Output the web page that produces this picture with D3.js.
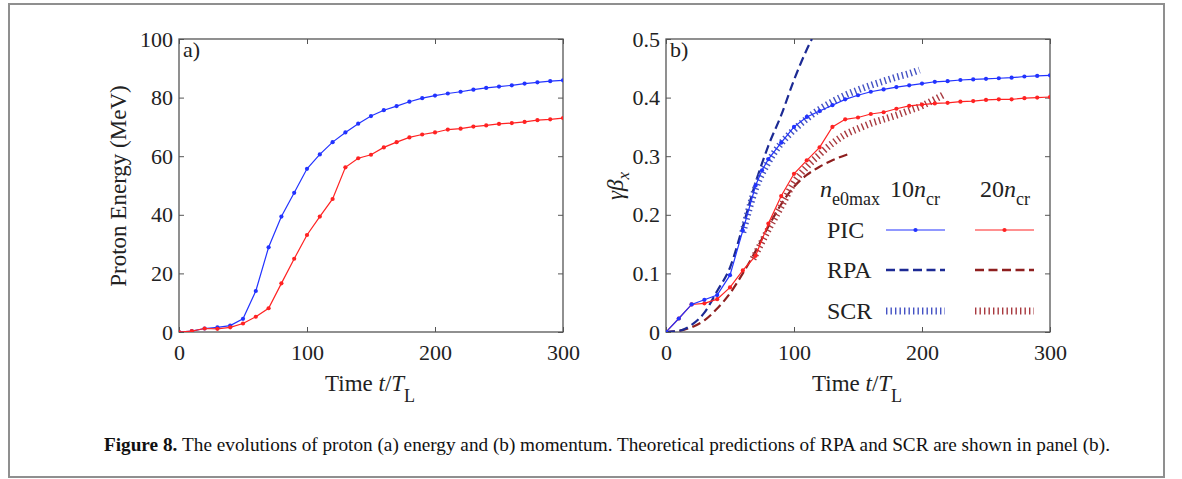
<!DOCTYPE html>
<html><head><meta charset="utf-8">
<script src="https://cdn.jsdelivr.net/npm/d3@7"></script>
<style>body{margin:0;background:#fff}svg{display:block}
svg text{font-family:"Liberation Serif","Times New Roman",serif;fill:#222}</style>
</head><body>
<svg id="c" width="1182" height="479"></svg>
<script>
// ---- data ----
const timeA = [0,10,20,30,40,50,60,70,80,90,100,110,120,130,140,150,160,170,180,190,200,210,220,230,240,250,260,270,280,290,300];
const energy10 = [0,0.3,1.2,1.6,2.2,4.5,14,28.9,39.4,47.5,55.7,60.6,64.8,68.1,71.1,73.7,75.7,77.1,78.6,79.8,80.7,81.4,82,82.7,83.3,83.75,84.2,84.8,85.2,85.6,85.9];
const energy20 = [0,0.3,1.2,1.1,1.6,2.9,5.2,8.1,16.6,25,33.1,39.4,45.4,56.2,59.3,60.5,63,64.8,66.4,67.4,68.1,69.1,69.4,70.1,70.5,71,71.3,71.7,72.3,72.6,73];

const picT10 = [0,10,20,30,40,50,60,70,75,80,90,100,110,120,130,140,150,160,170,180,190,200,210,220,230,240,250,260,270,280,290,300];
const pic10 = [0,0.023,0.047,0.055,0.063,0.097,0.173,0.25,0.276,0.295,0.323,0.35,0.367,0.377,0.387,0.397,0.404,0.41,0.414,0.418,0.421,0.424,0.427,0.428,0.43,0.431,0.432,0.433,0.434,0.436,0.437,0.438];
const picT20 = timeA;
const pic20 = [0,0.023,0.047,0.049,0.056,0.076,0.105,0.13,0.185,0.232,0.27,0.293,0.315,0.35,0.363,0.366,0.372,0.375,0.381,0.386,0.388,0.39,0.391,0.393,0.394,0.396,0.397,0.397,0.399,0.4,0.401];

const rpaT10 = [0,10,20,30,40,50,60,70,80,90,100,110,114];
const rpa10 = [0,0.002,0.012,0.033,0.07,0.11,0.18,0.255,0.318,0.37,0.43,0.482,0.5];
const rpaT20 = [0,10,20,30,40,50,60,70,80,90,100,110,120,130,143];
const rpa20 = [0,0.002,0.008,0.02,0.04,0.066,0.1,0.138,0.18,0.218,0.248,0.268,0.282,0.293,0.304];

const scrT10 = [60,70,80,90,100,110,120,130,140,150,160,170,180,190,198];
const scr10 = [0.17,0.245,0.29,0.322,0.345,0.364,0.38,0.393,0.404,0.413,0.421,0.428,0.435,0.441,0.447];
const scrT20 = [68,70,80,90,100,110,120,130,140,150,160,170,180,190,200,210,217];
const scr20 = [0.125,0.133,0.175,0.214,0.255,0.282,0.303,0.322,0.337,0.347,0.356,0.363,0.37,0.378,0.386,0.397,0.405];

const xTicks = [0,100,200,300];
const yTicksA = [0,20,40,60,80,100];
const yTicksB = [0,0.1,0.2,0.3,0.4,0.5];

// ---- drawing ----
const svg = d3.select("#c");
const AX = "#555";
const C = {pic10:"#2233ff", pic20:"#ff2222", rpa10:"#1c2a94", rpa20:"#8e1f1f", scr10:"#4452c4", scr20:"#a8393f"};

svg.append("rect").attr("x",9).attr("y",4).attr("width",1155).attr("height",473)
  .attr("fill","none").attr("stroke","#8f8f8f").attr("stroke-width",2);

function txt(x,y,size){
  return svg.append("text").attr("x",x).attr("y",y).style("font-size",size+"px");
}

function panel(id, x0, x1, yDom, yTicks, fmt){
  const x = d3.scaleLinear().domain([0,300]).range([x0,x1]);
  const y = d3.scaleLinear().domain(yDom).range([332,39]);
  const g = svg.append("g");
  const style = a => { a.select(".domain").remove(); a.selectAll("line").attr("stroke",AX);
    a.selectAll("text").style("font-family",'"Liberation Serif",serif').style("font-size","22px").style("fill","#222"); };
  g.append("g").attr("transform","translate(0,332)").call(d3.axisBottom(x).tickValues(xTicks).tickSize(-5).tickPadding(12)).call(style);
  g.append("g").attr("transform","translate(0,39)").call(d3.axisTop(x).tickValues(xTicks).tickSize(-5).tickFormat("")).call(style);
  g.append("g").attr("transform",`translate(${x0},0)`).call(d3.axisLeft(y).tickValues(yTicks).tickSize(-5).tickPadding(6).tickFormat(fmt)).call(style);
  g.append("g").attr("transform",`translate(${x1},0)`).call(d3.axisRight(y).tickValues(yTicks).tickSize(-5).tickFormat("")).call(style);
  g.append("rect").attr("x",x0).attr("y",39).attr("width",x1-x0).attr("height",293)
    .attr("fill","none").attr("stroke",AX).attr("stroke-width",1.3);
  svg.append("clipPath").attr("id",id).append("rect").attr("x",x0).attr("y",39).attr("width",x1-x0).attr("height",293);
  const plot = svg.append("g").attr("clip-path",`url(#${id})`);
  const xt = txt((x0+x1)/2-46,391,23);
  xt.append("tspan").text("Time ");
  xt.append("tspan").style("font-style","italic").text("t");
  xt.append("tspan").text("/");
  xt.append("tspan").style("font-style","italic").text("T");
  xt.append("tspan").attr("dy",11).style("font-size","18px").text("L");
  return {x,y,plot};
}

function drawLine(p, T, V, color, opts){
  const line = d3.line().x((d,i)=>p.x(T[i])).y(d=>p.y(d));
  if(opts.curve) line.curve(d3.curveMonotoneX);
  const path = p.plot.append("path").datum(V).attr("d",line).attr("fill","none")
    .attr("stroke",color).attr("stroke-width",opts.w||1.2);
  if(opts.dash) path.attr("stroke-dasharray",opts.dash);
  if(opts.dots){
    p.plot.selectAll(null).data(V).enter().append("circle")
      .attr("cx",(d,i)=>p.x(T[i])).attr("cy",d=>p.y(d)).attr("r",2.1).attr("fill",color);
  }
}

// panel a
const pa = panel("clipA",179,563,[0,100],yTicksA,d3.format("d"));
drawLine(pa,timeA,energy10,C.pic10,{dots:true});
drawLine(pa,timeA,energy20,C.pic20,{dots:true});
txt(183,57,22).text("a)");
svg.append("text").attr("transform","translate(126,186) rotate(-90)").attr("text-anchor","middle")
  .style("font-size","23px").text("Proton Energy (MeV)");

// panel b
const pb = panel("clipB",666,1050,[0,0.5],yTicksB,d=>d===0?"0":d3.format(".1f")(d));
const HATCH = "1.4,3.1";
drawLine(pb,rpaT20,rpa20,C.rpa20,{curve:true,w:2.2,dash:"9,4.5"});
drawLine(pb,rpaT10,rpa10,C.rpa10,{curve:true,w:2.2,dash:"9,4.5"});
drawLine(pb,scrT20,scr20,C.scr20,{curve:true,w:7,dash:HATCH});
drawLine(pb,scrT10,scr10,C.scr10,{curve:true,w:7,dash:HATCH});
drawLine(pb,picT20,pic20,C.pic20,{dots:true});
drawLine(pb,picT10,pic10,C.pic10,{dots:true});
txt(670,57,22).text("b)");
const yl = svg.append("text").attr("transform","translate(623,186) rotate(-90)").attr("text-anchor","middle")
  .style("font-size","23px");
yl.append("tspan").style("font-style","italic").text("γβ");
yl.append("tspan").style("font-style","italic").style("font-size","17px").attr("dy",6).text("x");

// legend
const LF = 24;
function nsub(t, sb){
  t.append("tspan").style("font-style","italic").text("n");
  t.append("tspan").style("font-size","18px").attr("dy",8).text(sb);
}
nsub(txt(820,197,LF),"e0max");
const l1 = txt(890,197,LF); l1.append("tspan").text("10"); nsub(l1,"cr");
const l2 = txt(980,197,LF); l2.append("tspan").text("20"); nsub(l2,"cr");
const legRows = [
  {label:"PIC", y:230, c1:C.pic10, c2:C.pic20, w:1.2, dash:null, dot:true},
  {label:"RPA", y:270, c1:C.rpa10, c2:C.rpa20, w:2.4, dash:"9,4.5", dot:false},
  {label:"SCR", y:311, c1:C.scr10, c2:C.scr20, w:7, dash:HATCH, dot:false}
];
legRows.forEach(r=>{
  txt(827,r.y+8,LF).text(r.label);
  [[886,945,r.c1],[975,1034,r.c2]].forEach(([a,b,c])=>{
    const l = svg.append("line").attr("x1",a).attr("x2",b).attr("y1",r.y).attr("y2",r.y).attr("stroke",c).attr("stroke-width",r.w);
    if(r.dash) l.attr("stroke-dasharray",r.dash);
    if(r.dot) svg.append("circle").attr("cx",(a+b)/2).attr("cy",r.y).attr("r",2.1).attr("fill",c);
  });
});

// caption
const cap = txt(104,451,19).style("fill","#111");
cap.append("tspan").style("font-weight","bold").text("Figure 8. ");
cap.append("tspan").text("The evolutions of proton (a) energy and (b) momentum. Theoretical predictions of RPA and SCR are shown in panel (b).");
const w = cap.node().getComputedTextLength();
const sx = 1006/w;
cap.attr("transform",`translate(104,0) scale(${sx},1) translate(-104,0)`);
</script>
</body></html>
